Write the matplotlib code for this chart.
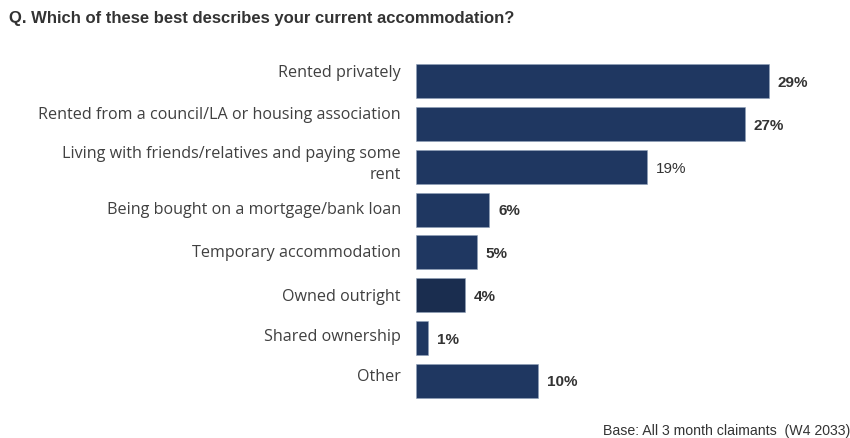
import matplotlib.pyplot as plt
from matplotlib.transforms import offset_copy

categories = [
    "Rented privately",
    "Rented from a council/LA or housing association",
    "Living with friends/relatives and paying some\nrent",
    "Being bought on a mortgage/bank loan",
    "Temporary accommodation",
    "Owned outright",
    "Shared ownership",
    "Other",
]
values = [29, 27, 19, 6, 5, 4, 1, 10]
value_labels = ["29%", "27%", "19%", "6%", "5%", "4%", "1%", "10%"]
bold_labels = [True, True, False, True, True, True, True, True]

NAVY = "#1F3761"
bar_colors = [NAVY] * len(values)
bar_colors[5] = "#1A2D4F"

# small vertical nudges (points, +up) for the category labels
label_nudge = [6, 6.5, 1.5, -0.5, -0.5, -1.5, 0.5, 2.5]

fig = plt.figure(figsize=(8.5, 4.38), dpi=100)
ax = fig.add_axes([416 / 850, 1 - 402 / 438, 1 - 416 / 850, (402 - 60) / 438])

PX = 12.17  # pixels per percentage point
y = list(range(len(values)))
ax.barh(y, values, height=0.8, color=bar_colors, edgecolor="#8fa0b8", linewidth=0.4)
ax.set_ylim(len(values) - 0.5, -0.5)
ax.set_xlim(0, (850 - 416) / PX)
ax.axis("off")

for i, (cat, v, lab, b) in enumerate(zip(categories, values, value_labels, bold_labels)):
    tr = offset_copy(ax.transData, fig=fig, x=0, y=label_nudge[i], units="points")
    ax.text(-15 / PX, i, cat, ha="right", va="center", fontsize=11.6,
            family="Open Sans", color="#404040", linespacing=1.45, transform=tr)
    ax.text(v + 9 / PX, i + 0.04, lab, ha="left", va="center",
            fontsize=11, family="Liberation Sans",
            fontweight="bold" if b else "normal", color="#333333")

fig.text(9 / 850, 1 - 19 / 438, "Q. Which of these best describes your current accommodation?",
         ha="left", va="center", fontsize=12, fontweight="bold",
         family="Liberation Sans", color="#333333")
fig.text(603 / 850, 1 - 431 / 438, "Base: All 3 month claimants  (W4 2033)",
         ha="left", va="center", fontsize=10.2, family="Liberation Sans", color="#333333")

fig.savefig("out.png", dpi=100)
